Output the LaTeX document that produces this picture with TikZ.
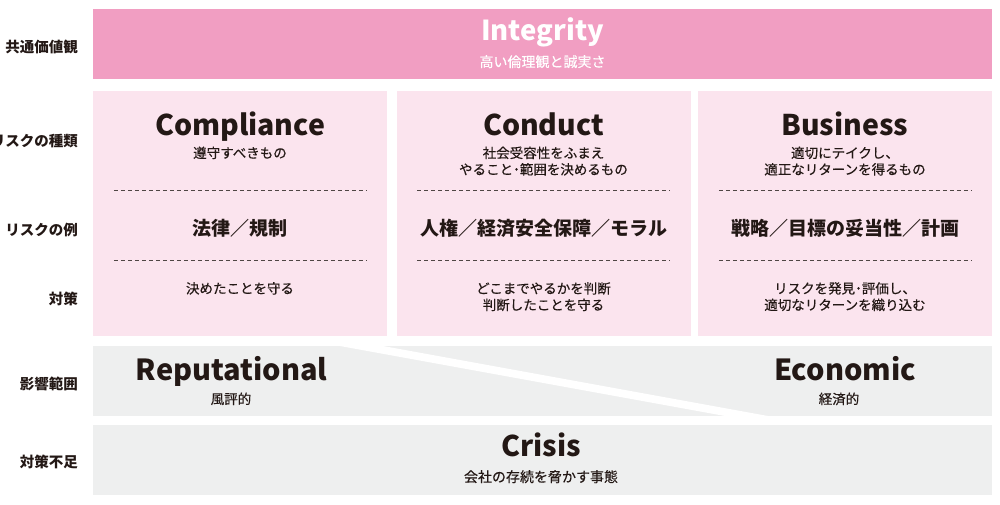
\documentclass[tikz,border=0pt]{standalone}
\usepackage{fontspec}
\setmainfont{Noto Sans CJK JP}
\newfontfamily\subfont[FakeBold=0.35]{Noto Sans CJK JP}
\definecolor{valuepink}{HTML}{F19EC2}
\definecolor{riskpink}{HTML}{FBE4EE}
\definecolor{impactgray}{HTML}{EEEFEF}
\definecolor{ink}{HTML}{231815}
\tikzset{
  band/.style={inner sep=0, minimum width=899pt, minimum height=70pt},
  riskbox/.style={fill=riskpink, inner sep=0, minimum width=294pt, minimum height=245pt},
  rowlabel/.style={anchor=base east, text=ink, font=\fontsize{14.5}{14.5}\selectfont\bfseries},
  title/.style={anchor=base, text=ink, font=\fontsize{28.5}{28.5}\selectfont\bfseries},
  subtext/.style={anchor=base, text=ink, font=\fontsize{13.5}{13.5}\subfont},
  example/.style={anchor=base, text=ink, font=\fontsize{19}{19}\selectfont\bfseries},
  sepline/.style={ink!80, line width=0.9pt, dash pattern=on 4pt off 3pt},
}
\begin{document}
\begin{tikzpicture}[x=1pt, y=-1pt]
    \useasboundingbox (0,0) rectangle (1000,505);

    % row labels
    \node[rowlabel] (lvalue) at (81.5,52.5) {共通価値観};
    \node[rowlabel] (ltype) at (81.5,147) {リスクの種類};
    \node[rowlabel] (lexample) at (81.5,235) {リスクの例};
    \node[rowlabel] (lmeasure) at (81.5,304.5) {対策};
    \node[rowlabel] (limpact) at (81.5,389) {影響範囲};
    \node[rowlabel] (llack) at (81.5,467.5) {対策不足};

    % shared value
    \node[band, fill=valuepink] (value) at (542.5,44.5) {};
    \node[title, text=white, font=\fontsize{27.5}{27.5}\selectfont\bfseries] (integrity) at (542.5,41) {Integrity};
    \node[subtext, text=white, font=\fontsize{14}{14}\subfont] (integritysub) at (542.5,67) {高い倫理観と誠実さ};

    % risk types
    \node[riskbox] (comp) at (240,213.5) {};
    \node[riskbox] (cond) at (543.5,213.5) {};
    \node[riskbox] (busi) at (845,213.5) {};
    \foreach \b in {comp,cond,busi} {
        \draw[sepline] ([xshift=21pt,yshift=-99.7pt]\b.north west) -- ([xshift=-21pt,yshift=-99.7pt]\b.north east);
        \draw[sepline] ([xshift=21pt,yshift=-169.7pt]\b.north west) -- ([xshift=-21pt,yshift=-169.7pt]\b.north east);
    }

    \node[title] (comptitle) at (240,135.5) {Compliance};
    \node[subtext] (compsub) at (240,158) {遵守すべきもの};
    \node[example] (compex) at (240,235) {法律／規制};
    \node[subtext] (compmeas) at (240,293.5) {決めたことを守る};

    \node[title] (condtitle) at (543.5,135.5) {Conduct};
    \node[subtext] (condsuba) at (543.5,158) {社会受容性をふまえ};
    \node[subtext] (condsubb) at (543.5,174.5) {やること･範囲を決めるもの};
    \node[example] (condex) at (543.5,235) {人権／経済安全保障／モラル};
    \node[subtext] (condmeasa) at (543.5,293.5) {どこまでやるかを判断};
    \node[subtext] (condmeasb) at (543.5,310) {判断したことを守る};

    \node[title] (busititle) at (845,135.5) {Business};
    \node[subtext] (busisuba) at (845,158) {適切にテイクし、};
    \node[subtext] (busisubb) at (845,174.5) {適正なリターンを得るもの};
    \node[example] (busiex) at (845,235) {戦略／目標の妥当性／計画};
    \node[subtext] (busimeasa) at (845,293.5) {リスクを発見･評価し、};
    \node[subtext] (busimeasb) at (845,310) {適切なリターンを織り込む};

    % impact
    \node[band, fill=impactgray] (impact) at (542.5,381) {};
    \fill[white] (334.5,345) -- (377.5,345) -- (773.5,417) -- (730.5,417) -- cycle;
    \node[title, font=\fontsize{29}{29}\selectfont\bfseries] (reput) at (231.7,380) {Reputational};
    \node[subtext] (reputsub) at (231,404) {風評的};
    \node[title, font=\fontsize{29}{29}\selectfont\bfseries] (econ) at (845,380) {Economic};
    \node[subtext] (econsub) at (839,404) {経済的};

    % lack of measures
    \node[band, fill=impactgray] (crisis) at (542.5,460) {};
    \node[title] (crisistitle) at (541,456.7) {Crisis};
    \node[subtext, font=\fontsize{14}{14}\subfont] (crisissub) at (541,482) {会社の存続を脅かす事態};
\end{tikzpicture}
\end{document}
